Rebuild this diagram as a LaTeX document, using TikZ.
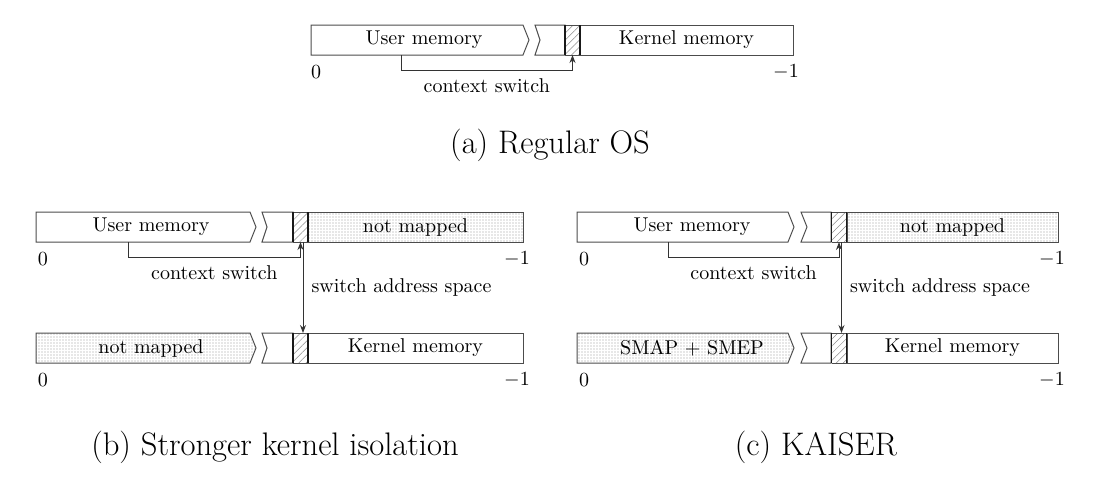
\documentclass[tikz,border=0pt]{standalone}
\usetikzlibrary{patterns.meta,arrows.meta}
\tikzset{
  box/.style={draw=black!70, line width=0.5pt},
  dotsfill/.style={pattern={Dots[distance=1.5pt,radius=0.3pt]}, pattern color=black!40},
  hatchcol/.style={inner sep=0pt, outer sep=0pt,
    minimum width=7.5pt, minimum height=15pt,
    pattern={Lines[angle=45,distance=2.5pt,line width=0.25pt]}, pattern color=black!45},
  coledge/.style={draw=black!90, line width=0.8pt},
  rectbox/.style={box, inner sep=0pt, outer sep=0pt, minimum height=15pt, font=\fontsize{10}{12}\selectfont},
  lbl/.style={font=\fontsize{10}{12}\selectfont, inner sep=0pt},
  captext/.style={font=\fontsize{16.3}{19}\selectfont, inner sep=0pt},
  conn/.style={draw=black!80, line width=0.5pt},
  arr/.style={conn, -{Stealth[length=4pt,width=3pt]}}
}
\newcommand\hatchedges[1]{%
  \draw[box] (#1.north west) -- (#1.north east) (#1.south west) -- (#1.south east);
  \draw[coledge] (#1.north west) -- (#1.south west) (#1.north east) -- (#1.south east);}
\begin{document}
\begin{tikzpicture}[x=0.5pt,y=-0.5pt]
\useasboundingbox (0,0) rectangle (1115,478);

% ---------------- (a) Regular OS ----------------
\draw[box] (311,25) -- (523,25) -- (529,40) -- (523,55) -- (311,55) -- cycle;
\node[lbl] (aU) at (424,40) {User memory};
\draw[box] (535,25) -- (565,25) -- (565,55) -- (535,55) -- (540,40) -- cycle;
\node[rectbox, minimum width=106.5pt] (aK) at (686.5,40) {Kernel memory};
\node[hatchcol] (aH) at (572.5,40) {};
\hatchedges{aH}
\node[lbl] (a0) at (316,72) {0};
\node[lbl] (a1) at (786,72) {$-1$};
\coordinate (aS) at (401,55);
\draw[arr] (aS) -- ++(0,15) -| node[pos=0.25, lbl, yshift=-8pt] (aCS) {context switch} (aH.south);
\node[captext] (aCap) at (550,145) {(a) Regular OS};

% ---------------- (b) Stronger kernel isolation ----------------
% upper row
\draw[box] (36,212) -- (250,212) -- (256,227) -- (250,242) -- (36,242) -- cycle;
\node[lbl] (bU) at (151,227) {User memory};
\draw[box] (262,212) -- (293,212) -- (293,242) -- (262,242) -- (267,227) -- cycle;
\node[rectbox, dotsfill, minimum width=107.5pt] (bN) at (415.5,227) {not mapped};
\node[hatchcol] (bH1) at (300.5,227) {};
\hatchedges{bH1}
\node[lbl] (b0a) at (43,259) {0};
\node[lbl] (b1a) at (517,259) {$-1$};
\coordinate (bS) at (128,242);
\draw[arr] (bS) -- ++(0,15) -| node[pos=0.25, lbl, yshift=-8pt] (bCS) {context switch} (bH1.south);
% lower row
\draw[box, dotsfill] (36,333) -- (250,333) -- (256,348) -- (250,363) -- (36,363) -- cycle;
\node[lbl] (bNM) at (151,348) {not mapped};
\draw[box] (262,333) -- (293,333) -- (293,363) -- (262,363) -- (267,348) -- cycle;
\node[rectbox, minimum width=107.5pt] (bK) at (415.5,348) {Kernel memory};
\node[hatchcol] (bH2) at (300.5,348) {};
\hatchedges{bH2}
\node[lbl] (b0b) at (43,380) {0};
\node[lbl] (b1b) at (517,380) {$-1$};
\draw[arr] ([xshift=1.25pt]bH1.south) -- node[midway, lbl, anchor=west, xshift=4pt] (bSW) {switch address space} ([xshift=1.25pt]bH2.north);
\node[captext] (bCap) at (275,447) {(b) Stronger kernel isolation};

% ---------------- (c) KAISER ----------------
% upper row
\draw[box] (577,212) -- (788,212) -- (794,227) -- (788,242) -- (577,242) -- cycle;
\node[lbl] (cU) at (692,227) {User memory};
\draw[box] (801,212) -- (831,212) -- (831,242) -- (801,242) -- (807,227) -- cycle;
\node[rectbox, dotsfill, minimum width=105.5pt] (cN) at (952.5,227) {not mapped};
\node[hatchcol] (cH1) at (839,227) {};
\hatchedges{cH1}
\node[lbl] (c0a) at (584,259) {0};
\node[lbl] (c1a) at (1052,259) {$-1$};
\coordinate (cS) at (668,242);
\draw[arr] (cS) -- ++(0,15) -| node[pos=0.25, lbl, yshift=-8pt] (cCS) {context switch} (cH1.south);
% lower row
\draw[box, dotsfill] (577,333) -- (788,333) -- (794,348) -- (788,363) -- (577,363) -- cycle;
\node[lbl] (cSM) at (692,348) {SMAP + SMEP};
\draw[box] (801,333) -- (831,333) -- (831,363) -- (801,363) -- (807,348) -- cycle;
\node[rectbox, minimum width=105.5pt] (cK) at (952.5,348) {Kernel memory};
\node[hatchcol] (cH2) at (839,348) {};
\hatchedges{cH2}
\node[lbl] (c0b) at (584,380) {0};
\node[lbl] (c1b) at (1052,380) {$-1$};
\draw[arr] ([xshift=1.25pt]cH1.south) -- node[midway, lbl, anchor=west, xshift=4pt] (cSW) {switch address space} ([xshift=1.25pt]cH2.north);
\node[captext] (cCap) at (816,447) {(c) KAISER};
\end{tikzpicture}
\end{document}
